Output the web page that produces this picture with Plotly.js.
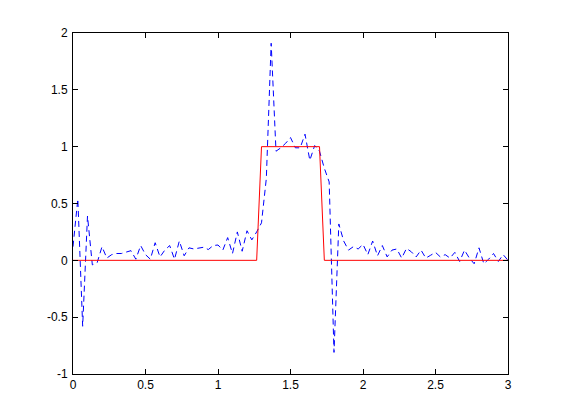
<!DOCTYPE html>
<html>
<head>
<meta charset="utf-8">
<script src="https://cdn.plot.ly/plotly-3.0.1.min.js"></script>
<style>
html,body{margin:0;padding:0;background:#fff;}
#chart{width:561px;height:420px;}
</style>
</head>
<body>
<div id="chart"></div>
<script>
// sample times (step 1/30 s)
var t = [0, 0.0333, 0.0667, 0.1, 0.1333, 0.1667, 0.2, 0.2333, 0.2667, 0.3,
  0.3333, 0.3667, 0.4, 0.4333, 0.4667, 0.5, 0.5333, 0.5667, 0.6, 0.6333,
  0.6667, 0.7, 0.7333, 0.7667, 0.8, 0.8333, 0.8667, 0.9, 0.9333, 0.9667,
  1, 1.0333, 1.0667, 1.1, 1.1333, 1.1667, 1.2, 1.2333, 1.2667, 1.3,
  1.3333, 1.3667, 1.4, 1.4333, 1.4667, 1.5, 1.5333, 1.5667, 1.6, 1.6333,
  1.6667, 1.7, 1.7333, 1.7667, 1.8, 1.8333, 1.8667, 1.9, 1.9333, 1.9667,
  2, 2.0333, 2.0667, 2.1, 2.1333, 2.1667, 2.2, 2.2333, 2.2667, 2.3,
  2.3333, 2.3667, 2.4, 2.4333, 2.4667, 2.5, 2.5333, 2.5667, 2.6, 2.6333,
  2.6667, 2.7, 2.7333, 2.7667, 2.8, 2.8333, 2.8667, 2.9, 2.9333, 2.9667, 3];

// noisy reconstructed signal (blue dashed)
var noisy = [0.12, 0.54, -0.58, 0.39, -0.04, -0.02, 0.12, 0.02, 0.05, 0.06,
  0.06, 0.07, 0.085, 0.01, 0.13, 0.05, 0.01, 0.155, 0.03, 0.09,
  0.13, 0.01, 0.17, 0.04, 0.11, 0.10, 0.11, 0.115, 0.095, 0.13,
  0.135, 0.09, 0.20, 0.06, 0.25, 0.08, 0.26, 0.18, 0.25, 0.33,
  0.72, 1.91, 0.96, 0.99, 1.03, 1.08, 0.99, 0.99, 1.11, 0.88,
  1.01, 0.96, 0.81, 0.69, -0.81, 0.32, 0.17, 0.09, 0.12, 0.10,
  0.14, 0.05, 0.17, 0.04, 0.13, 0.03, 0.09, 0.10, 0.02, 0.105,
  0.075, 0.03, 0.09, 0.02, 0.045, 0.07, 0.03, 0.05, 0.02, 0.07,
  -0.01, 0.09, 0.02, -0.03, 0.11, -0.03, 0.01, 0.06, -0.01, 0.05, 0.0];

// ideal rectangular pulse (red solid)
var pulseT = [0, 1.2667, 1.3, 1.7, 1.7333, 3];
var pulseY = [0, 0, 1, 1, 0, 0];

// tick labels
var xTickVals = [0, 0.5, 1, 1.5, 2, 2.5, 3];
var xTickText = ['0', '0.5', '1', '1.5', '2', '2.5', '3'];
var yTickVals = [-1, -0.5, 0, 0.5, 1, 1.5, 2];
var yTickText = ['-1', '-0.5', '0', '0.5', '1', '1.5', '2'];

var traces = [
  {x: t, y: noisy, type: 'scatter', mode: 'lines',
   line: {color: 'rgb(0,0,255)', width: 1, dash: '6px,4px'},
   hoverinfo: 'skip'},
  {x: pulseT, y: pulseY, type: 'scatter', mode: 'lines',
   line: {color: 'rgb(255,0,0)', width: 1},
   hoverinfo: 'skip'}
];

var axisCommon = {
  showgrid: false, zeroline: false,
  showline: true, linecolor: '#000', linewidth: 1,
  mirror: 'ticks', ticks: 'inside', ticklen: 5, tickwidth: 1, tickcolor: '#000',
  tickfont: {family: 'Arial, "Liberation Sans", sans-serif', size: 12, color: '#000'},
  tickmode: 'array'
};

var layout = {
  width: 561, height: 420,
  margin: {l: 73, r: 53, t: 33, b: 46, pad: 0},
  paper_bgcolor: '#fff', plot_bgcolor: '#fff',
  showlegend: false,
  xaxis: Object.assign({}, axisCommon, {range: [0, 3], tickvals: xTickVals, ticktext: xTickText}),
  yaxis: Object.assign({}, axisCommon, {range: [-1, 2], tickvals: yTickVals, ticktext: yTickText, ticklabelstandoff: 2})
};

Plotly.newPlot('chart', traces, layout, {staticPlot: true, displayModeBar: false});
</script>
</body>
</html>
